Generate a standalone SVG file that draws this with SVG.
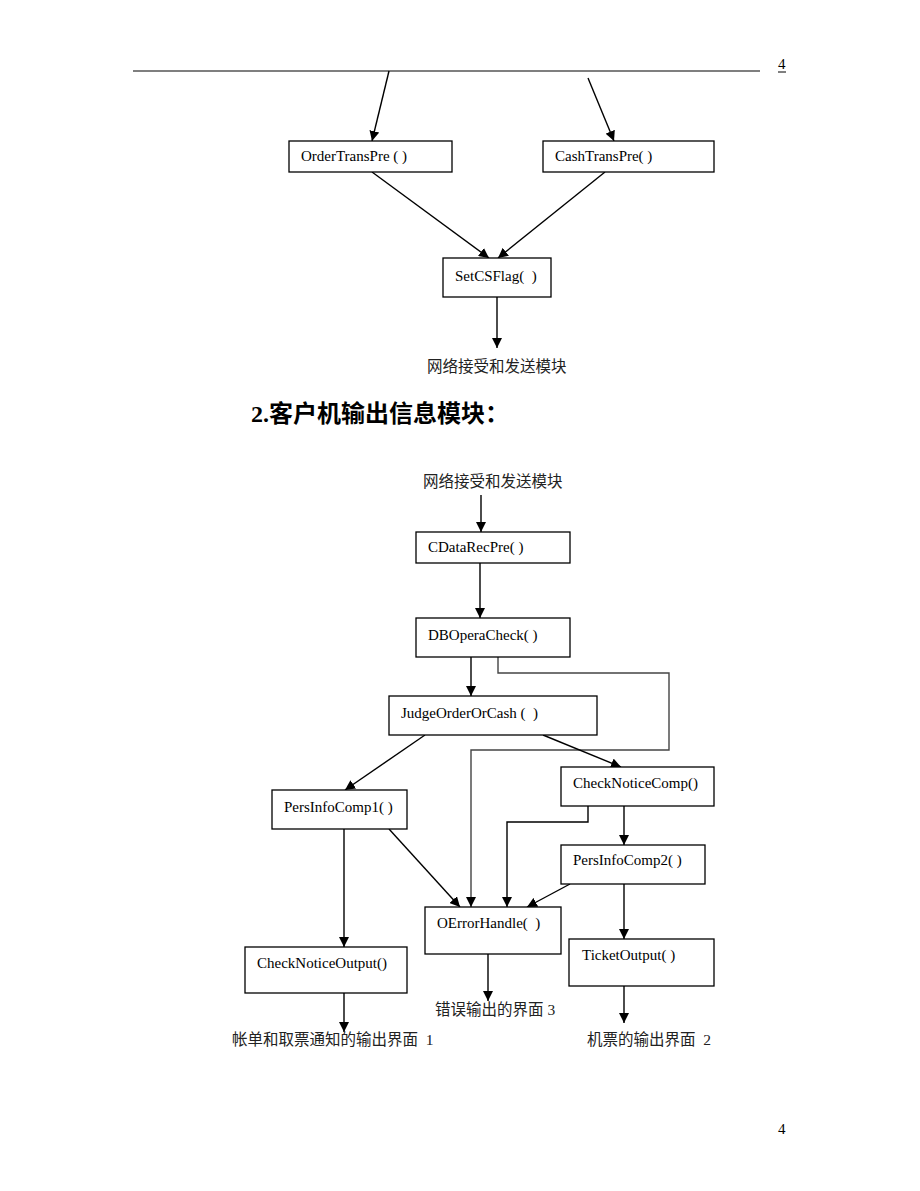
<svg xmlns="http://www.w3.org/2000/svg" width="920" height="1191" viewBox="0 0 920 1191">
<style>
text{white-space:pre}
.box{fill:#fff;stroke:#000;stroke-width:1.3}
.t{font-family:"Liberation Serif","Noto Sans CJK SC",serif;font-size:15px;fill:#000}
.cn{font-family:"Liberation Serif","Noto Sans CJK SC",serif;font-size:15.5px;fill:#222}
.h{font-family:"Liberation Serif","Noto Sans CJK SC",serif;font-size:24px;font-weight:bold;fill:#000}
.c{fill:none;stroke:#000;stroke-width:1.4}
.g{fill:none;stroke:#444;stroke-width:1.4}
</style>
<defs>
<marker id="ah" viewBox="0 0 10 10" refX="10" refY="5" markerWidth="10" markerHeight="10" markerUnits="userSpaceOnUse" orient="auto">
<path d="M0,0 L10,5 L0,10 z" fill="#000"/>
</marker>
</defs>
<rect width="920" height="1191" fill="#fff"/>
<line x1="133" y1="71" x2="760" y2="71" stroke="#000" stroke-width="1.2"/>
<text x="778" y="69" class="t" font-size="14">4</text>
<line x1="778" y1="72" x2="786" y2="72" stroke="#000" stroke-width="1"/>
<text x="778" y="1134" class="t" font-size="14">4</text>

<g id="connectors">
<line class="c" x1="389" y1="71" x2="372" y2="141" marker-end="url(#ah)"/>
<line class="c" x1="588" y1="78" x2="614" y2="141" marker-end="url(#ah)"/>
<line class="c" x1="372" y1="172" x2="489" y2="258" marker-end="url(#ah)"/>
<line class="c" x1="605" y1="172" x2="498" y2="258" marker-end="url(#ah)"/>
<line class="c" x1="497" y1="297" x2="497" y2="348" marker-end="url(#ah)"/>

<line class="c" x1="481" y1="495" x2="481" y2="532" marker-end="url(#ah)"/>
<line class="c" x1="480" y1="563" x2="480" y2="618" marker-end="url(#ah)"/>
<line class="c" x1="471" y1="657" x2="471" y2="696" marker-end="url(#ah)"/>
<polyline class="g" points="498,657 498,673 669,673 669,750 471,750 471,907" marker-end="url(#ah)"/>
<line class="c" x1="425" y1="735" x2="345" y2="790" marker-end="url(#ah)"/>
<line class="c" x1="543" y1="735" x2="621" y2="767" marker-end="url(#ah)"/>
<line class="c" x1="344" y1="829" x2="344" y2="947" marker-end="url(#ah)"/>
<line class="c" x1="389" y1="829" x2="460" y2="907" marker-end="url(#ah)"/>
<polyline class="c" points="588,806 588,822 507,822 507,907" marker-end="url(#ah)"/>
<line class="c" x1="624" y1="806" x2="624" y2="845" marker-end="url(#ah)"/>
<line class="c" x1="570" y1="884" x2="527" y2="907" marker-end="url(#ah)"/>
<line class="c" x1="624" y1="884" x2="624" y2="939" marker-end="url(#ah)"/>
<line class="c" x1="488" y1="954" x2="488" y2="1001" marker-end="url(#ah)"/>
<line class="c" x1="344" y1="993" x2="344" y2="1032" marker-end="url(#ah)"/>
<line class="c" x1="624" y1="986" x2="624" y2="1023" marker-end="url(#ah)"/>
</g>

<g id="OrderTransPre"><rect class="box" x="289" y="141" width="163" height="31"/><text class="t" x="301" y="161">OrderTransPre ( )</text></g>
<g id="CashTransPre"><rect class="box" x="543" y="141" width="171" height="31"/><text class="t" x="555" y="161">CashTransPre( )</text></g>
<g id="SetCSFlag"><rect class="box" x="443" y="258" width="108" height="39"/><text class="t" x="455" y="281">SetCSFlag(  )</text></g>
<g id="netLabel1"><text class="cn" x="427" y="372">网络接受和发送模块</text></g>

<g id="heading"><text class="h" x="251" y="422">2.客户机输出信息模块：</text></g>

<g id="netLabel2"><text class="cn" x="423" y="487">网络接受和发送模块</text></g>
<g id="CDataRecPre"><rect class="box" x="416" y="532" width="154" height="31"/><text class="t" x="428" y="552">CDataRecPre( )</text></g>
<g id="DBOperaCheck"><rect class="box" x="416" y="618" width="154" height="39"/><text class="t" x="428" y="640">DBOperaCheck( )</text></g>
<g id="JudgeOrderOrCash"><rect class="box" x="389" y="696" width="208" height="39"/><text class="t" x="401" y="718">JudgeOrderOrCash (  )</text></g>
<g id="PersInfoComp1"><rect class="box" x="272" y="790" width="135" height="39"/><text class="t" x="284" y="812">PersInfoComp1( )</text></g>
<g id="CheckNoticeComp"><rect class="box" x="561" y="767" width="153" height="39"/><text class="t" x="573" y="788">CheckNoticeComp()</text></g>
<g id="PersInfoComp2"><rect class="box" x="561" y="845" width="144" height="39"/><text class="t" x="573" y="865">PersInfoComp2( )</text></g>
<g id="OErrorHandle"><rect class="box" x="425" y="907" width="136" height="47"/><text class="t" x="437" y="928">OErrorHandle(  )</text></g>
<g id="CheckNoticeOutput"><rect class="box" x="245" y="947" width="162" height="46"/><text class="t" x="257" y="968">CheckNoticeOutput()</text></g>
<g id="TicketOutput"><rect class="box" x="569" y="939" width="145" height="47"/><text class="t" x="582" y="960">TicketOutput( )</text></g>

<g id="outLabel3"><text class="cn" x="435" y="1015">错误输出的界面 3</text></g>
<g id="outLabel1"><text class="cn" x="232" y="1045">帐单和取票通知的输出界面  1</text></g>
<g id="outLabel2"><text class="cn" x="587" y="1045">机票的输出界面  2</text></g>
</svg>
